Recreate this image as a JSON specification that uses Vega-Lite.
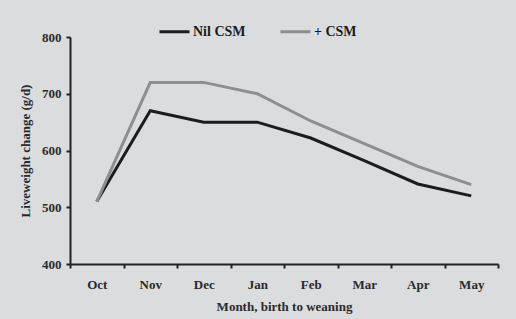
{
  "$schema": "https://vega.github.io/schema/vega-lite/v6.json",
  "width": 428,
  "height": 227,
  "autosize": {"type": "none"},
  "padding": {"left": 70, "top": 37, "right": 18, "bottom": 55},
  "background": "#dadcde",
  "config": {
    "view": {"stroke": null},
    "font": "Liberation Serif",
    "axis": {
      "labelFont": "Liberation Serif",
      "labelFontWeight": "bold",
      "labelFontSize": 13,
      "labelColor": "#2a2a2a",
      "titleFont": "Liberation Serif",
      "titleFontWeight": "bold",
      "titleFontSize": 13,
      "titleColor": "#2a2a2a",
      "domainColor": "#222222",
      "domainWidth": 2,
      "tickColor": "#222222",
      "tickWidth": 2,
      "tickSize": 4,
      "grid": false
    }
  },
  "data": {
    "values": [
      {"month": "Oct", "series": "Nil CSM", "value": 510},
      {"month": "Nov", "series": "Nil CSM", "value": 670},
      {"month": "Dec", "series": "Nil CSM", "value": 650},
      {"month": "Jan", "series": "Nil CSM", "value": 650},
      {"month": "Feb", "series": "Nil CSM", "value": 622},
      {"month": "Mar", "series": "Nil CSM", "value": 582},
      {"month": "Apr", "series": "Nil CSM", "value": 541},
      {"month": "May", "series": "Nil CSM", "value": 520},
      {"month": "Oct", "series": "+ CSM", "value": 510},
      {"month": "Nov", "series": "+ CSM", "value": 720},
      {"month": "Dec", "series": "+ CSM", "value": 720},
      {"month": "Jan", "series": "+ CSM", "value": 700},
      {"month": "Feb", "series": "+ CSM", "value": 652},
      {"month": "Mar", "series": "+ CSM", "value": 612},
      {"month": "Apr", "series": "+ CSM", "value": 572},
      {"month": "May", "series": "+ CSM", "value": 540}
    ]
  },
  "mark": {"type": "line", "strokeWidth": 3},
  "encoding": {
    "x": {
      "field": "month",
      "type": "ordinal",
      "sort": ["Oct", "Nov", "Dec", "Jan", "Feb", "Mar", "Apr", "May"],
      "scale": {"paddingInner": 0, "paddingOuter": 0},
      "axis": {
        "title": "Month, birth to weaning",
        "labelAngle": 0,
        "labelPadding": 10,
        "bandPosition": 0,
        "tickBand": "extent",
        "titlePadding": 9
      }
    },
    "y": {
      "field": "value",
      "type": "quantitative",
      "scale": {"domain": [400, 800], "nice": false, "zero": false},
      "axis": {
        "title": "Liveweight change (g/d)",
        "values": [400, 500, 600, 700, 800],
        "labelPadding": 5,
        "titlePadding": 9
      }
    },
    "color": {
      "field": "series",
      "type": "nominal",
      "scale": {"domain": ["Nil CSM", "+ CSM"], "range": ["#1c1c1c", "#8c8e90"]},
      "legend": {
        "title": null,
        "orient": "none",
        "legendX": 88,
        "legendY": -22,
        "direction": "horizontal",
        "symbolType": "stroke",
        "symbolSize": 900,
        "symbolStrokeWidth": 3,
        "labelFont": "Liberation Serif",
        "labelFontWeight": "bold",
        "labelFontSize": 14,
        "labelColor": "#1c1c1c",
        "labelOffset": 2,
        "columnPadding": 28
      }
    }
  }
}
